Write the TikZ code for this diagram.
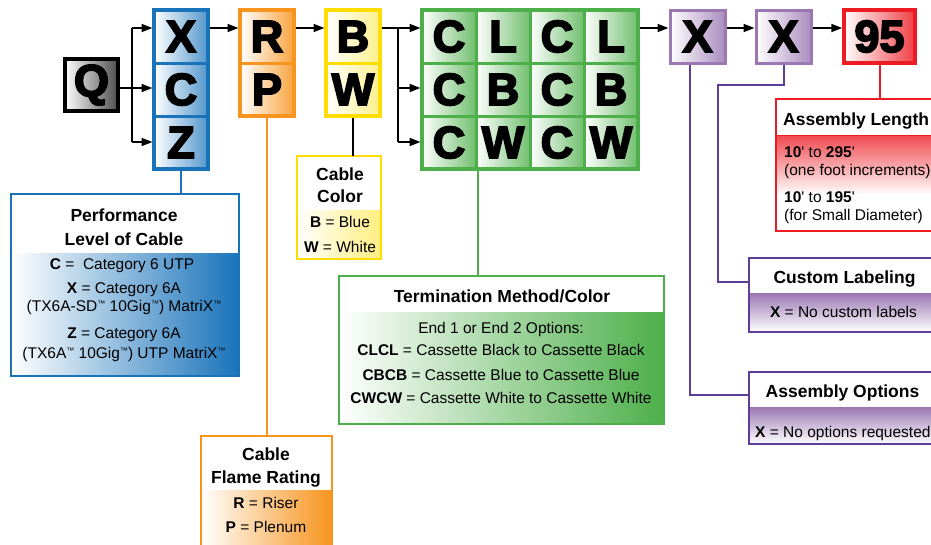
\documentclass[tikz,border=0pt]{standalone}
\usepackage{fontspec}
\setmainfont{Liberation Sans}
\newfontfamily\heavy[FakeBold=4]{Liberation Sans Bold}
\usetikzlibrary{arrows.meta}
\definecolor{cblue}{RGB}{25,115,186}
\definecolor{corange}{RGB}{247,148,29}
\definecolor{cyellow}{RGB}{255,221,0}
\definecolor{cgreen}{RGB}{77,175,74}
\definecolor{cpurple}{RGB}{155,120,180}
\definecolor{cindigo}{RGB}{92,62,154}
\definecolor{cred}{RGB}{237,28,36}
\newcommand\tmk{\raisebox{5pt}{\fontsize{8}{8}\selectfont ™}}
\begin{document}
\begin{tikzpicture}[x=1pt,y=-1pt,
  cell/.style 2 args={draw=#1, line width=3pt, left color=white, right color=#2,
    minimum width=54pt, minimum height=53pt, inner sep=0pt,
    font=\heavy\fontsize{45}{45}\selectfont},
  frame/.style={draw=#1, line width=4pt},
  area/.style={minimum width=#1, inner sep=0pt, outer sep=0pt, anchor=north west},
  boxline/.style={draw=#1, line width=2.5pt},
  arr/.style={-{Triangle[length=11pt,width=8pt]}, line width=1.8pt, draw=black},
  conn/.style={line width=2pt, draw=#1},
  ttl/.style={font=\bfseries\fontsize{17.5}{21}\selectfont, inner sep=0pt, anchor=base},
  bd/.style={font=\fontsize{15.5}{18}\selectfont, inner sep=0pt, anchor=base},
  bdw/.style={font=\fontsize{15.5}{18}\selectfont, inner sep=0pt, anchor=base west},
]
\useasboundingbox (0,0) rectangle (931,544);
\clip (0,0) rectangle (931,544);

% ---------- code boxes ----------
\node[cell={black}{black!70}, line width=4pt, minimum width=53pt, minimum height=52pt] (q) at (91.5,85) {Q};

\node[cell={cblue}{cblue!75}] (cx) at (181,36.5) {X};
\node[cell={cblue}{cblue!75}] (cc) at (181,89.5) {C};
\node[cell={cblue}{cblue!75}] (cz) at (181,142.5) {Z};
\draw[frame=cblue] (cx.north west) ++(1.5,1.5) rectangle ([shift={(-1.5,-1.5)}]cz.south east);

\node[cell={corange}{corange!85}] (rp1) at (267,36.5) {R};
\node[cell={corange}{corange!85}] (rp2) at (267,89.5) {P};
\draw[frame=corange] (rp1.north west) ++(1.5,1.5) rectangle ([shift={(-1.5,-1.5)}]rp2.south east);

\node[cell={cyellow}{cyellow!45}] (bw1) at (353,36.5) {B};
\node[cell={cyellow}{cyellow!45}] (bw2) at (353,89.5) {W};
\draw[frame=cyellow] (bw1.north west) ++(1.5,1.5) rectangle ([shift={(-1.5,-1.5)}]bw2.south east);

\node[cell={cgreen}{cgreen!80}] (g11) at (449,36.5) {C};
\node[cell={cgreen}{cgreen!80}] (g12) at (503,36.5) {L};
\node[cell={cgreen}{cgreen!80}] (g13) at (557,36.5) {C};
\node[cell={cgreen}{cgreen!80}] (g14) at (611,36.5) {L};
\node[cell={cgreen}{cgreen!80}] (g21) at (449,89.5) {C};
\node[cell={cgreen}{cgreen!80}] (g22) at (503,89.5) {B};
\node[cell={cgreen}{cgreen!80}] (g23) at (557,89.5) {C};
\node[cell={cgreen}{cgreen!80}] (g24) at (611,89.5) {B};
\node[cell={cgreen}{cgreen!80}] (g31) at (449,142.5) {C};
\node[cell={cgreen}{cgreen!80}] (g32) at (503,142.5) {W};
\node[cell={cgreen}{cgreen!80}] (g33) at (557,142.5) {C};
\node[cell={cgreen}{cgreen!80}] (g34) at (611,142.5) {W};
\draw[frame=cgreen] (g11.north west) ++(1.5,1.5) rectangle ([shift={(-1.5,-1.5)}]g34.south east);

\node[cell={cpurple}{cpurple!85}, minimum width=55pt] (x1) at (697.5,36.5) {X};
\node[cell={cpurple}{cpurple!85}, minimum width=55pt] (x2) at (783.5,36.5) {X};
\node[cell={cred}{cred!85}, line width=3.5pt, minimum width=71pt] (n95) at (879.5,36.5) {95};

% ---------- arrows ----------
\coordinate (r1) at (0,28);
\coordinate (r2) at (0,88);
\coordinate (r3) at (0,142);
\coordinate (f1) at (132,88);
\coordinate (f2) at (398,88);
\draw[conn=black] (q.east |- r2) -- (f1);
\draw[conn=black] (f1 |- r1) -- (f1 |- r3);
\draw[arr] (f1 |- r1) -- (cx.west |- r1);
\draw[arr] (f1 |- r2) -- (cc.west |- r2);
\draw[arr] (f1 |- r3) -- (cz.west |- r3);
\draw[arr] (cx.east |- r1) -- (rp1.west |- r1);
\draw[arr] (rp1.east |- r1) -- (bw1.west |- r1);
\draw[conn=black] (bw1.east |- r1) -- (f2 |- r1) -- (f2 |- r3);
\draw[arr] (f2 |- r1) -- (g11.west |- r1);
\draw[arr] (f2 |- r2) -- (g21.west |- r2);
\draw[arr] (f2 |- r3) -- (g31.west |- r3);
\draw[arr] (g14.east |- r1) -- (x1.west |- r1);
\draw[arr] (x1.east |- r1) -- (x2.west |- r1);
\draw[arr] (x2.east |- r1) -- (n95.west |- r1);

% ---------- description boxes ----------
% Performance
\node[area=228pt, minimum height=182pt] (perf) at (11,194) {};
\coordinate (hperf) at (0,253);
\shade[left color=white, right color=cblue] (perf.west |- hperf) rectangle (perf.south east);
\draw[boxline=cblue] (perf.north west) rectangle (perf.south east);
\node[ttl] (perfT1) at (124,221.5) {Performance};
\node[ttl] (perfT2) at (124,245) {Level of Cable};
\node[bd] (perfC) at (122,269) {\textbf{C} = \ Category 6 UTP};
\node[bd] (perfX) at (124,293) {\textbf{X} = Category 6A};
\node[bd] (perfX2) at (124,311.5) {(TX6A-SD\tmk\ 10Gig\tmk) MatriX\tmk};
\node[bd] (perfZ) at (124,338) {\textbf{Z} = Category 6A};
\node[bd] (perfZ2) at (124,358) {(TX6A\tmk\ 10Gig\tmk) UTP MatriX\tmk};

% Cable color
\node[area=84pt, minimum height=103pt] (color) at (297,156) {};
\coordinate (hcol) at (0,210);
\shade[left color=white, right color=cyellow!50] (color.west |- hcol) rectangle (color.south east);
\draw[boxline=cyellow] (color.north west) rectangle (color.south east);
\node[ttl] (colT1) at (340,180) {Cable};
\node[ttl] (colT2) at (340,202) {Color};
\node[bd] (colB) at (340,227) {\textbf{B} = Blue};
\node[bd] (colW) at (340,252) {\textbf{W} = White};

% Termination
\node[area=325pt, minimum height=148pt] (term) at (339,276) {};
\coordinate (hterm) at (0,312);
\shade[left color=white, right color=cgreen] (term.west |- hterm) rectangle (term.south east);
\draw[boxline=cgreen] (term.north west) rectangle (term.south east);
\node[ttl] (termT) at (502,302) {Termination Method/Color};
\node[bd] (termE) at (501,333) {End 1 or End 2 Options:};
\node[bd] (termL) at (501,355.5) {\textbf{CLCL} = Cassette Black to Cassette Black};
\node[bd] (termB) at (501,380) {\textbf{CBCB} = Cassette Blue to Cassette Blue};
\node[bd] (termW) at (501,403.5) {\textbf{CWCW} = Cassette White to Cassette White};

% Flame rating
\node[area=131pt, minimum height=125pt] (flame) at (201,436) {};
\coordinate (hfl) at (0,490);
\shade[left color=white, right color=corange] (flame.west |- hfl) rectangle (flame.south east);
\draw[boxline=corange] (flame.north west) rectangle (flame.south east);
\node[ttl] (flT1) at (266,460) {Cable};
\node[ttl] (flT2) at (266,483) {Flame Rating};
\node[bd] (flR) at (266,508) {\textbf{R} = Riser};
\node[bd] (flP) at (266,532) {\textbf{P} = Plenum};

% Assembly length
\node[area=170pt, minimum height=132pt] (len) at (776,99) {};
\coordinate (hlen) at (0,135);
\coordinate (hlen2) at (0,195);
\shade[top color=cred!80, bottom color=white] (len.west |- hlen) rectangle (len.east |- hlen2);
\draw[boxline=cred] (len.north west) rectangle (len.south east);
\draw[cred, line width=1pt] (len.west |- hlen) -- (len.east |- hlen);
\node[ttl, anchor=base west] (lenT) at (783,125) {Assembly Length};
\node[bdw] (len1) at (784,157) {\textbf{10}\textquotesingle\ to \textbf{295}\textquotesingle};
\node[bdw] (len2) at (784,175) {(one foot increments)};
\node[bdw] (len3) at (784,202) {\textbf{10}\textquotesingle\ to \textbf{195}\textquotesingle};
\node[bdw] (len4) at (784,220) {(for Small Diameter)};

% Custom labeling
\node[area=190pt, minimum height=74pt] (custom) at (749,258) {};
\coordinate (hcus) at (0,293);
\shade[top color=cpurple, bottom color=white] (custom.west |- hcus) rectangle (custom.south east);
\draw[boxline=cindigo] (custom.north west) rectangle (custom.south east);
\node[ttl] (cusT) at (844.5,283) {Custom Labeling};
\node[bd] (cusX) at (843.5,317) {\textbf{X} = No custom labels};

% Assembly options
\node[area=190pt, minimum height=72pt] (opt) at (749,372) {};
\coordinate (hopt) at (0,407);
\shade[top color=cpurple, bottom color=white] (opt.west |- hopt) rectangle (opt.south east);
\draw[boxline=cindigo] (opt.north west) rectangle (opt.south east);
\node[ttl] (optT) at (842.5,397) {Assembly Options};
\node[bdw] (optX) at (755,437) {\textbf{X} = No options requested};

% ---------- connectors to description boxes ----------
\draw[conn=cblue] (cz.south) -- (cz.south |- perf.north);
\draw[conn=corange] (rp2.south) -- (rp2.south |- flame.north);
\draw[conn=black] (bw2.south) -- (bw2.south |- color.north);
\draw[conn=cgreen] (g31.south east) -- (g31.south east |- term.north);
\draw[conn=cred] (n95.south) -- (n95.south |- len.north);
\coordinate (c1) at (690,395);
\draw[conn=cindigo] (x1.south -| c1) -- (c1) -- (c1 -| opt.west);
\coordinate (c2a) at (718,85);
\coordinate (c2b) at (718,282);
\draw[conn=cindigo] (x2.south) -- (x2.south |- c2a) -- (c2a) -- (c2b) -- (c2b -| custom.west);
\end{tikzpicture}
\end{document}
